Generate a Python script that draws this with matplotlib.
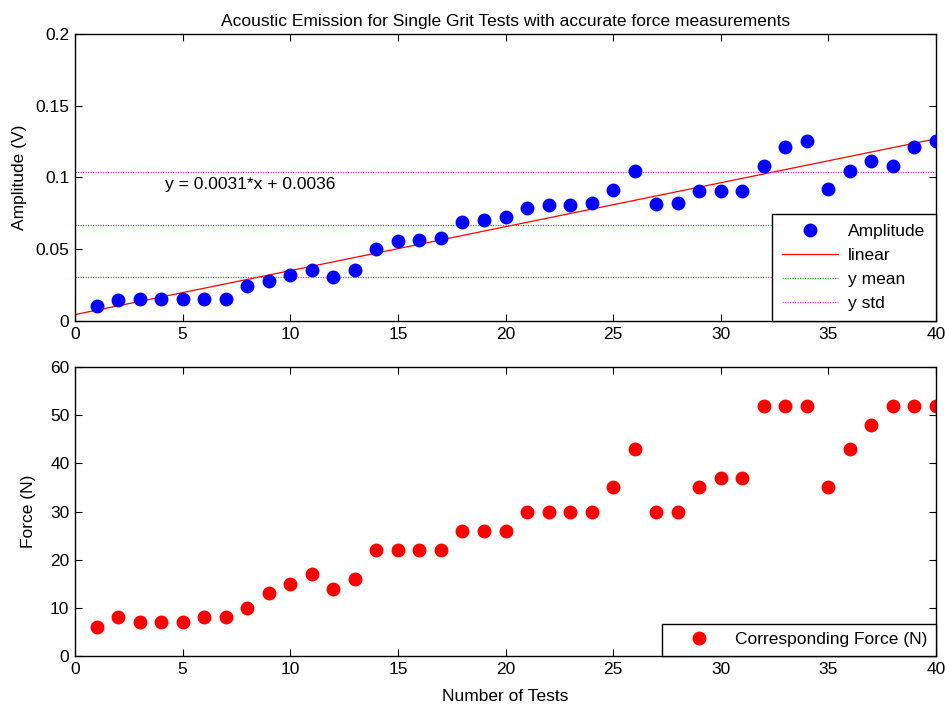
import matplotlib
matplotlib.use("Agg")
import matplotlib.pyplot as plt
import numpy as np

plt.rcParams['font.family'] = ['Liberation Sans', 'DejaVu Sans']

# data
tests = np.arange(1, 41)
amplitude = [0.0107, 0.0144, 0.0151, 0.0151, 0.0151, 0.0151, 0.0151, 0.0244, 0.0279, 0.0318,
             0.0353, 0.0309, 0.0353, 0.0504, 0.0557, 0.0567, 0.0576, 0.0688, 0.0704, 0.0722,
             0.0787, 0.0806, 0.0806, 0.0824, 0.0915, 0.1045, 0.0815, 0.0824, 0.0908, 0.0908,
             0.0908, 0.1080, 0.1210, 0.1256, 0.0918, 0.1045, 0.1117, 0.1080, 0.1210, 0.1256]
force = [6, 8, 7, 7, 7, 8, 8, 10, 13, 15,
         17, 14, 16, 22, 22, 22, 22, 26, 26, 26,
         30, 30, 30, 30, 35, 43, 30, 30, 35, 37,
         37, 52, 52, 52, 35, 43, 48, 52, 52, 52]
fit_text = "y = 0.0031*x + 0.0036"
amp_yticks = [0, 0.05, 0.1, 0.15, 0.2]
amp_yticklabels = ["0", "0.05", "0.1", "0.15", "0.2"]
force_yticks = [0, 10, 20, 30, 40, 50, 60]
xticks = [0, 5, 10, 15, 20, 25, 30, 35, 40]

amp = np.array(amplitude)
slope, intercept = np.polyfit(tests, amp, 1)
xfit = np.array([0, 40])
y_mean = amp.mean()
y_std = amp.std(ddof=1)

fs = 12.5

fig = plt.figure(figsize=(9.47, 7.08), dpi=100)
ax1 = fig.add_axes([0.0792, 0.5466, 0.9092, 0.4054])
ax2 = fig.add_axes([0.0792, 0.0734, 0.9092, 0.4082])

dot = (0, (1, 1))
ax1.plot(tests, amp, 'o', color='#0000ff', ms=9, mec='#0000ff', label='Amplitude', zorder=3)
ax1.plot(xfit, slope * xfit + intercept, '-', color='#ff0000', lw=0.9, label='linear')
ax1.plot(xfit, [y_mean, y_mean], color='#2e9e2e', lw=0.9, ls=dot, label='y mean')
ax1.plot(xfit, [y_mean + y_std] * 2, color='#dd33dd', lw=0.9, ls=dot, label='y std')
ax1.plot(xfit, [y_mean - y_std] * 2, color='#dd33dd', lw=0.9, ls=dot)
ax1.text(4.2, 0.095, fit_text, fontsize=fs, va='center', ha='left')
ax1.set_xlim(0, 40)
ax1.set_ylim(0, 0.2)
ax1.set_yticks(amp_yticks)
ax1.set_yticklabels(amp_yticklabels)
ax1.set_ylabel('Amplitude (V)', fontsize=fs, labelpad=6)
ax1.set_title('Acoustic Emission for Single Grit Tests with accurate force measurements',
              fontsize=fs, pad=6)
leg1 = ax1.legend(loc='lower right', borderaxespad=0, fancybox=False, fontsize=fs,
                  framealpha=1, edgecolor='black', handlelength=3.2, handletextpad=0.6,
                  labelspacing=0.5, borderpad=0.6)
leg1.get_frame().set_linewidth(1)

ax2.plot(tests, force, 'o', color='#ff0000', ms=9, mec='#ff0000', label='Corresponding Force (N)')
ax2.set_xlim(0, 40)
ax2.set_ylim(0, 60)
ax2.set_yticks(force_yticks)
ax2.set_ylabel('Force (N)', fontsize=fs, labelpad=10)
ax2.set_xlabel('Number of Tests', fontsize=fs, labelpad=9)
leg2 = ax2.legend(loc='lower right', borderaxespad=0, fancybox=False, fontsize=fs,
                  framealpha=1, edgecolor='black', handlelength=3.2, handletextpad=0.5,
                  borderpad=0.5)
leg2.get_frame().set_linewidth(1)

for ax in (ax1, ax2):
    ax.set_xticks(xticks)
    ax.tick_params(direction='in', top=True, right=True, length=5, labelsize=fs, width=0.8, pad=4)
    for s in ax.spines.values():
        s.set_linewidth(1)

fig.savefig('out.png', dpi=100)
